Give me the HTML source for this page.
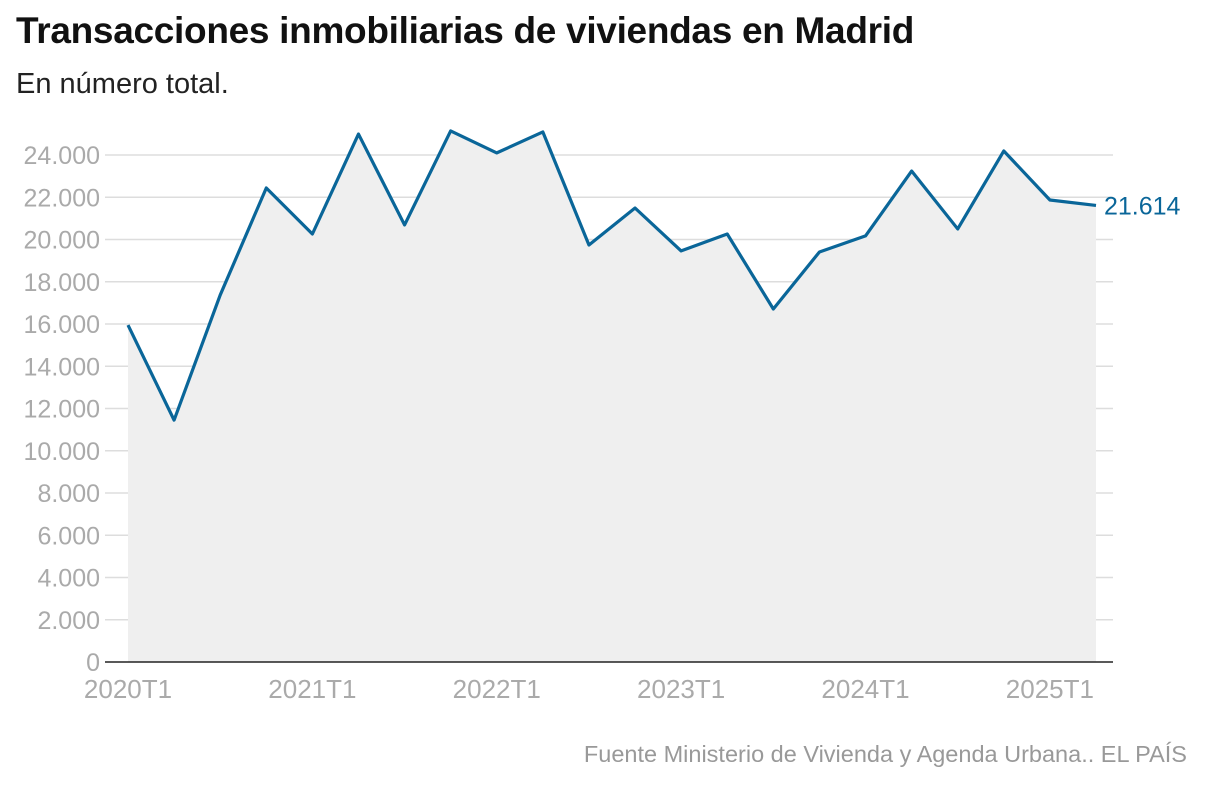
<!DOCTYPE html>
<html><head><meta charset="utf-8">
<style>
body{margin:0;background:#fff;width:1207px;height:800px;overflow:hidden;font-family:"Liberation Sans",sans-serif;}
#title{position:absolute;left:16px;top:10px;font-size:37px;font-weight:bold;color:#111;letter-spacing:-0.3px;}
#sub{position:absolute;left:16px;top:68px;font-size:29px;color:#222;}
#src{position:absolute;right:20px;top:741px;font-size:23.5px;color:#999;}
svg{position:absolute;left:0;top:0;}
</style></head><body>
<div id="title">Transacciones inmobiliarias de viviendas en Madrid</div>
<div id="sub">En número total.</div>
<svg id="chart" width="1207" height="800"></svg>
<div id="src">Fuente Ministerio de Vivienda y Agenda Urbana.. EL PAÍS</div>
<script>
const categories=["2020T1","2020T2","2020T3","2020T4","2021T1","2021T2","2021T3","2021T4","2022T1","2022T2","2022T3","2022T4","2023T1","2023T2","2023T3","2023T4","2024T1","2024T2","2024T3","2024T4","2025T1","2025T2"];
const values=[15950,11450,17370,22440,20260,24990,20690,25140,24100,25090,19740,21490,19460,20260,16710,19410,20170,23240,20500,24190,21870,21614];
const yTicks=[0,2000,4000,6000,8000,10000,12000,14000,16000,18000,20000,22000,24000];
const xLabels=["2020T1","2021T1","2022T1","2023T1","2024T1","2025T1"];
const NS="http://www.w3.org/2000/svg";
const svg=document.getElementById('chart');
const x0=128,x1=1096,yBase=662,yTop=155,yMax=24000;
const xs=i=>x0+(x1-x0)*i/(categories.length-1);
const ys=v=>yBase-(yBase-yTop)*v/yMax;
function mk(t,a){const e=document.createElementNS(NS,t);for(const k in a)e.setAttribute(k,a[k]);svg.appendChild(e);return e;}
const fmt=v=>v.toString().replace(/\B(?=(\d{3})+(?!\d))/g,'.');
yTicks.forEach(v=>{
 if(v>0){const l=mk('line',{x1:105,x2:1113,y1:ys(v),y2:ys(v),stroke:'#ddd','stroke-width':1.5});
 
 }
 const t=mk('text',{x:100,y:ys(v)+9,'text-anchor':'end','font-size':25,fill:'#aaa'});t.textContent=fmt(v);
 
 
});
let d='M'+xs(0)+','+yBase;
values.forEach((v,i)=>d+=' L'+xs(i)+','+ys(v));
d+=' L'+xs(values.length-1)+','+yBase+' Z';
const area=mk('path',{d:d,fill:'#efefef'});


const ax=mk('line',{x1:105,x2:1113,y1:yBase,y2:yBase,stroke:'#222','stroke-width':1.5});


const line=mk('polyline',{points:values.map((v,i)=>xs(i)+','+ys(v)).join(' '),fill:'none',stroke:'#0a6699','stroke-width':3.2,'stroke-linejoin':'round'});


xLabels.forEach(lb=>{const i=categories.indexOf(lb);
 const t=mk('text',{x:xs(i),y:698,'text-anchor':'middle','font-size':26,fill:'#aaa'});t.textContent=lb;
 
 });
const last=values[values.length-1];
const lt=mk('text',{x:xs(values.length-1)+8,y:ys(last)+9,'font-size':25,fill:'#0a6699'});lt.textContent=fmt(last);


</script>
</body></html>
